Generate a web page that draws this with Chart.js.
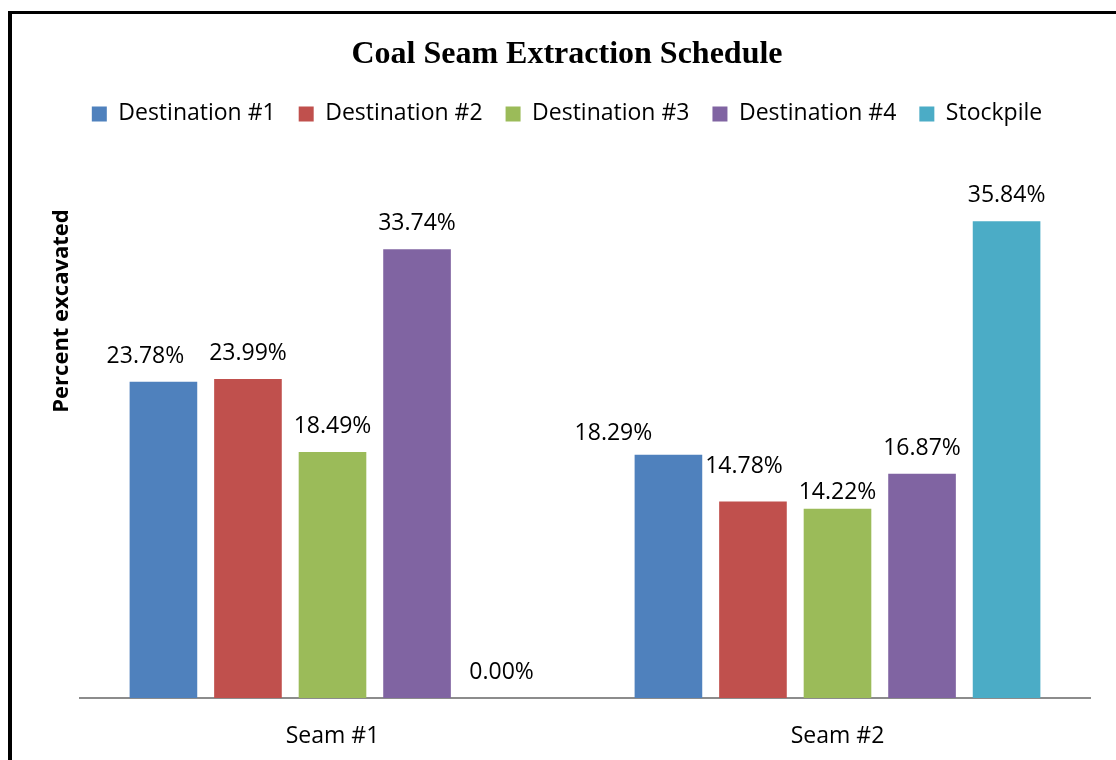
<!DOCTYPE html>
<html>
<head>
<meta charset="utf-8">
<script src="https://cdn.jsdelivr.net/npm/chart.js@4/dist/chart.umd.min.js"></script>
<style>
  html, body { margin:0; padding:0; background:#fff; overflow:hidden; width:1116px; height:760px; }
  #frame { position:absolute; left:8px; top:11px; width:1120px; height:760px; border-left:4px solid #000; border-top:3px solid #000; }
  #wrap { position:absolute; left:12px; top:14px; width:1104px; height:762px; }
</style>
</head>
<body>
<div id="frame"></div>
<div id="wrap"><canvas id="c" width="1104" height="762"></canvas></div>
<script>
// ---- data ----
const categories = ['Seam #1', 'Seam #2'];
const seriesNames = ['Destination #1', 'Destination #2', 'Destination #3', 'Destination #4', 'Stockpile'];
const destination1 = [23.78, 18.29];
const destination2 = [23.99, 14.78];
const destination3 = [18.49, 14.22];
const destination4 = [33.74, 16.87];
const stockpile = [0.00, 35.84];
const yTicks = [0, 40];
const chartTitle = 'Coal Seam Extraction Schedule';
const yAxisTitle = 'Percent excavated';

// ---- style ----
const seriesColors = ['#4F81BD', '#C0504D', '#9BBB59', '#8064A2', '#4BACC6'];
// label nudges [series][category] = [dx, dy] in px (label placement only)
const labelNudges = [
  [[-18, 0], [-55, 4]],
  [[0, 0], [-9, -9]],
  [[0, 0], [0, 9]],
  [[0, 0], [0, 0]],
  [[0, 0], [0, 0]]
];
const FONT = '"Open Sans", "DejaVu Sans", sans-serif';

const seriesValues = [destination1, destination2, destination3, destination4, stockpile];

const valueLabels = {
  id: 'valueLabels',
  afterDatasetsDraw(chart) {
    const ctx = chart.ctx;
    ctx.save();
    ctx.font = '23px ' + FONT;
    ctx.fillStyle = '#000';
    ctx.textAlign = 'center';
    ctx.textBaseline = 'alphabetic';
    chart.data.datasets.forEach((ds, i) => {
      const meta = chart.getDatasetMeta(i);
      meta.data.forEach((el, j) => {
        const n = labelNudges[i][j];
        const v = ds.data[j];
        ctx.fillText(v.toFixed(2) + '%', el.x + n[0], el.y - 19 + n[1]);
      });
    });
    ctx.restore();
  }
};

const yTitlePlugin = {
  id: 'yTitlePlugin',
  afterDraw(chart) {
    const ctx = chart.ctx;
    ctx.save();
    ctx.translate(50, 297);
    ctx.rotate(-Math.PI / 2);
    ctx.font = 'bold 22px ' + FONT;
    ctx.fillStyle = '#000';
    ctx.textAlign = 'center';
    ctx.textBaseline = 'middle';
    ctx.fillText(yAxisTitle, 0, 0);
    ctx.restore();
  }
};

const legendSpacer = {
  id: 'legendSpacer',
  beforeLayout(chart) {
    const lg = chart.legend;
    if (lg && !lg._patched) {
      const f = lg.fit;
      lg.fit = function () { f.call(this); this.height += 30.6; };
      lg._patched = true;
    }
  }
};

new Chart(document.getElementById('c'), {
  type: 'bar',
  data: {
    labels: categories,
    datasets: seriesNames.map((name, i) => ({
      label: name,
      data: seriesValues[i],
      backgroundColor: seriesColors[i],
      borderWidth: 0,
      barPercentage: 0.8,
      categoryPercentage: 0.837
    }))
  },
  options: {
    responsive: false,
    animation: false,
    layout: { padding: { left: 32, right: 26, top: 0, bottom: 1.4 } },
    plugins: {
      title: {
        display: true,
        text: chartTitle,
        color: '#000',
        font: { family: '"Liberation Serif", "Times New Roman", serif', size: 32, weight: 'bold' },
        padding: { top: 22, bottom: 5 }
      },
      legend: {
        display: true,
        position: 'top',
        labels: {
          boxWidth: 15,
          boxHeight: 15,
          padding: 23,
          color: '#000',
          font: { family: FONT, size: 23 }
        }
      },
      tooltip: { enabled: false }
    },
    scales: {
      x: {
        grid: { display: false, drawTicks: false },
        border: { display: true, color: '#8c8c8c', width: 2 },
        ticks: { color: '#000', font: { family: FONT, size: 23 }, padding: 24.5 }
      },
      y: {
        display: true,
        min: yTicks[0],
        max: yTicks[1],
        grid: { display: false, drawTicks: false },
        border: { display: false },
        ticks: { display: false },
        afterFit(scale) { scale.width = 36; }
      }
    }
  },
  plugins: [valueLabels, yTitlePlugin, legendSpacer]
});
</script>
</body>
</html>
